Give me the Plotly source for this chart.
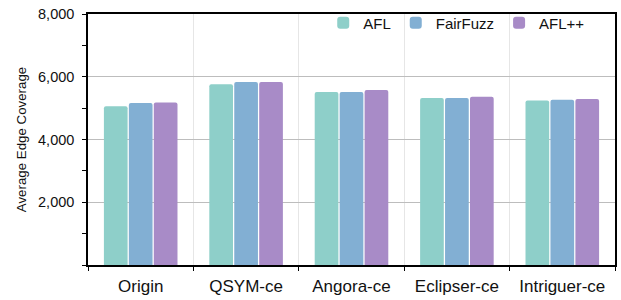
import plotly.graph_objects as go

categories = ["Origin", "QSYM-ce", "Angora-ce", "Eclipser-ce", "Intriguer-ce"]
afl = [5057, 5760, 5517, 5319, 5246]
fairfuzz = [5161, 5833, 5517, 5319, 5265]
aflpp = [5183, 5833, 5580, 5360, 5287]
series_names = ["AFL", "FairFuzz", "AFL++"]
colors = ["#8ECFC9", "#82AFD3", "#A88BC7"]
y_ticks = [2000, 4000, 6000, 8000]
y_tick_labels = ["2,000", "4,000", "6,000", "8,000"]

fig = go.Figure()
for name, vals, c in zip(series_names, [afl, fairfuzz, aflpp], colors):
    fig.add_trace(go.Bar(
        x=categories, y=vals, name=name,
        marker=dict(color=c, line=dict(width=0), cornerradius=2),
    ))

fig.update_layout(
    width=621, height=300,
    margin=dict(l=88, r=6, t=11, b=35),
    paper_bgcolor="white", plot_bgcolor="white",
    font=dict(family="Liberation Sans, Arial, sans-serif", color="#111"),
    barmode="group", bargap=0.29, bargroupgap=0.05,
    showlegend=True,
    legend=dict(orientation="h", x=0.953, y=1.03,
                xanchor="right", yanchor="top",
                font=dict(size=15), bgcolor="rgba(0,0,0,0)",
                itemwidth=30, tracegroupgap=0),
    yaxis2=dict(overlaying="y", side="left", range=[0, 8000], tickvals=y_ticks,
                showticklabels=False, showgrid=False, showline=False,
                ticks="inside", ticklen=3, tickcolor="black", tickwidth=1,
                minor=dict(dtick=1000, tick0=0, ticks="inside", ticklen=3, tickcolor="black"),
                automargin=False, zeroline=False),
)
fig.update_xaxes(
    type="category", tickson="boundaries", showgrid=True, gridcolor="#e6e6e6", gridwidth=1,
    showline=True, linecolor="black", linewidth=1.5, mirror=True,
    ticks="outside", ticklen=4, tickcolor="black", tickwidth=1,
    tickfont=dict(size=17), range=[-0.5, 4.5], automargin=False, ticklabelstandoff=5,
)
fig.layout.yaxis.update(range=[0, 8000], tickvals=y_ticks, ticktext=y_tick_labels,
    showgrid=True, gridcolor="#bdbdbd", gridwidth=1,
    showline=True, linecolor="black", linewidth=1.5, mirror=True,
    ticks="outside", ticklen=4, tickcolor="black", tickwidth=1,
    minor=dict(dtick=1000, tick0=0, ticks="outside", ticklen=4, tickcolor="black", showgrid=False),
    tickfont=dict(size=14.5), ticklabelstandoff=5,
    title=dict(text="Average Edge Coverage", font=dict(size=13.3), standoff=8),
    zeroline=False, automargin=False)

# remove the browser's default 8px body margin so the figure sits at the window's top-left corner
fig.write_html("out.html", config={"displayModeBar": False},
               post_script="document.body.style.margin='0';")
